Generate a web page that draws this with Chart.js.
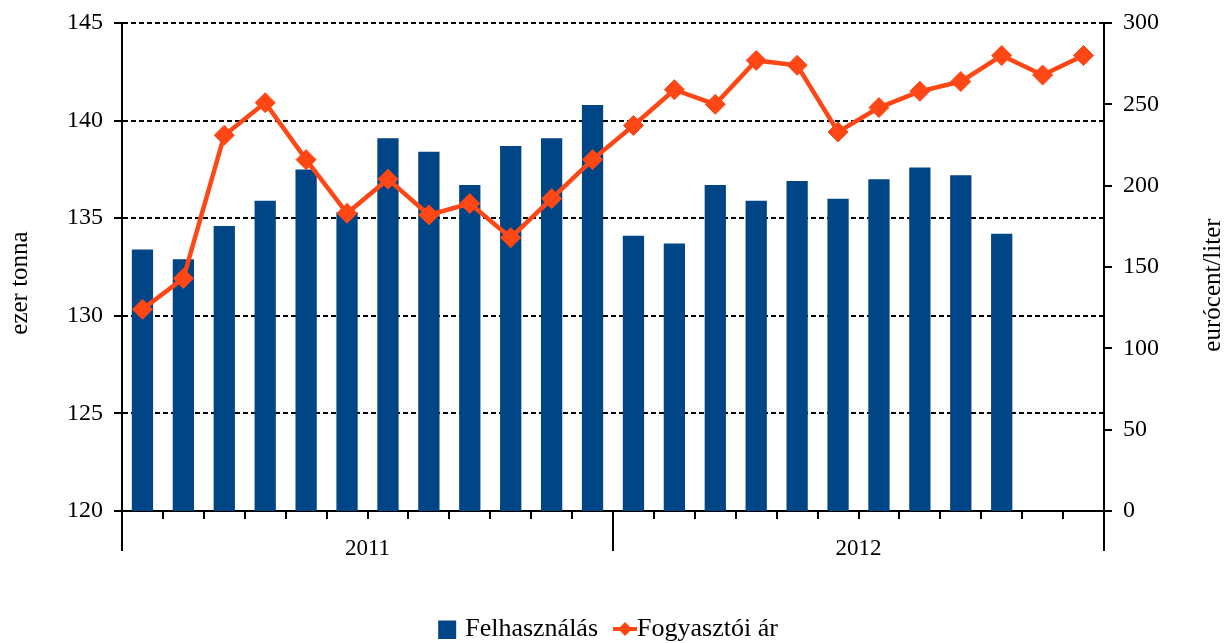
<!DOCTYPE html>
<html><head><meta charset="utf-8">
<script src="https://cdn.jsdelivr.net/npm/chart.js@4.4.0/dist/chart.umd.min.js"></script>
<style>html,body{margin:0;padding:0;background:#fff;overflow:hidden}#wrap{width:1228px;height:643px;position:relative}</style>
</head><body><div id="wrap"><canvas id="c" width="1228" height="643"></canvas></div>
<script>
const months = ['2011-01','2011-02','2011-03','2011-04','2011-05','2011-06','2011-07','2011-08','2011-09','2011-10','2011-11','2011-12',
                '2012-01','2012-02','2012-03','2012-04','2012-05','2012-06','2012-07','2012-08','2012-09','2012-10','2012-11','2012-12'];
const years = ['2011', '2012'];
const felhasznalas = [133.4,132.9,134.6,135.9,137.5,135.3,139.1,138.4,136.7,138.7,139.1,140.8,
                      134.1,133.7,136.7,135.9,136.9,136.0,137.0,137.6,137.2,134.2,null,null];
const fogyasztoiAr = [124,143,231,251,216,183,204,182,189,168,192,216,
                      237,259,250,277,274,233,248,258,264,280,268,280];
const seriesNames = ['Felhasználás', 'Fogyasztói ár'];
const leftTitle = 'ezer tonna';
const rightTitle = 'eurócent/liter';

const BLUE = '#004586';
const ORANGE = '#ff4716';
const FONT = 'Liberation Serif';

function mkSquare(){const c=document.createElement('canvas');c.width=34;c.height=19;const g=c.getContext('2d');g.fillStyle=BLUE;g.fillRect(15,1,18,18);return c;}
function mkLineMark(){const c=document.createElement('canvas');c.width=50;c.height=20;const g=c.getContext('2d');
  g.strokeStyle=ORANGE;g.lineWidth=4;g.beginPath();g.moveTo(26,10);g.lineTo(50,10);g.stroke();
  g.fillStyle=ORANGE;g.beginPath();g.moveTo(38,3);g.lineTo(45,10);g.lineTo(38,17);g.lineTo(31,10);g.closePath();g.fill();return c;}
const sq = mkSquare(), lm = mkLineMark();

const titlesPlugin = {
  id:'axisTitles',
  afterLayout(chart){
    const lg = chart.legend;
    if (lg){ lg.top += 9; lg.bottom += 9; lg.right -= 22; }
  },
  afterDraw(chart){
    const ctx=chart.ctx, a=chart.chartArea;
    const cy=(a.top+a.bottom)/2;
    ctx.save();
    ctx.font = '25px "'+FONT+'"';
    ctx.fillStyle='#000';
    ctx.textAlign='center';ctx.textBaseline='middle';
    ctx.save(); ctx.translate(20,cy+16); ctx.rotate(-Math.PI/2); ctx.fillText(leftTitle,0,0); ctx.restore();
    ctx.save(); ctx.translate(1213,cy+18); ctx.rotate(-Math.PI/2); ctx.fillText(rightTitle,0,0); ctx.restore();
    ctx.restore();
  }
};

new Chart(document.getElementById('c'), {
  data: {
    labels: months,
    datasets: [
      {type:'bar', label: seriesNames[0], data: felhasznalas, backgroundColor: BLUE, yAxisID:'y', xAxisID:'x',
       barPercentage:0.52, categoryPercentage:1, order:1},
      {type:'line', label: seriesNames[1], data: fogyasztoiAr, borderColor: ORANGE, backgroundColor: ORANGE, borderWidth:4.5,
       pointStyle:'rectRot', pointRadius:10, pointBorderWidth:1, pointBackgroundColor: ORANGE, pointBorderColor: ORANGE,
       yAxisID:'y1', xAxisID:'x', tension:0, order:0}
    ]
  },
  options: {
    responsive:false, animation:false,
    layout:{autoPadding:false,padding:{left:0,right:0,top:21,bottom:0}},
    plugins:{
      tooltip:{enabled:false},
      legend:{position:'bottom',
        labels:{font:{family:FONT,size:26},color:'#000',usePointStyle:true,pointStyleWidth:24,boxHeight:20,padding:2,
          sort:(a,b)=>a.datasetIndex-b.datasetIndex,
          generateLabels(chart){
            return chart.data.datasets.map((d,i)=>({text:d.label,datasetIndex:i,pointStyle:i===0?sq:lm,
              fillStyle:i===0?BLUE:ORANGE,strokeStyle:i===0?BLUE:ORANGE,lineWidth:0,hidden:false,fontColor:'#000'}));
          }}}
    },
    scales:{
      x:{type:'category',position:'bottom',offset:true,
         grid:{offset:true,drawOnChartArea:false,color:'#000',lineWidth:2,tickLength:8},
         border:{color:'#000',width:2},
         ticks:{display:false},
         afterFit(s){s.height=8;}},
      x2:{type:'category',labels:years,position:'bottom',offset:true,
         grid:{offset:true,drawOnChartArea:false,color:'#000',lineWidth:2,tickLength:32},
         border:{display:false},
         ticks:{font:{family:FONT,size:23},color:'#000',padding:-16},
         afterFit(s){s.height=86;}},
      y:{position:'left',min:120,max:145,
         ticks:{stepSize:5,font:{family:FONT,size:24,lineHeight:1},color:'#000',padding:11},
         grid:{color:'#000',lineWidth:2,tickLength:8,tickBorderDash:[],tickColor:'#000'},
         border:{color:'#000',width:2,dash:[5,3]},
         afterFit(s){s.width=122;}},
      y1:{position:'right',min:0,max:300,
         ticks:{stepSize:50,font:{family:FONT,size:24,lineHeight:1},color:'#000',padding:11},
         grid:{drawOnChartArea:false,color:'#000',lineWidth:2,tickLength:8},
         border:{color:'#000',width:2},
         afterFit(s){s.width=124;}}
    }
  },
  plugins:[titlesPlugin]
});
</script></body></html>
